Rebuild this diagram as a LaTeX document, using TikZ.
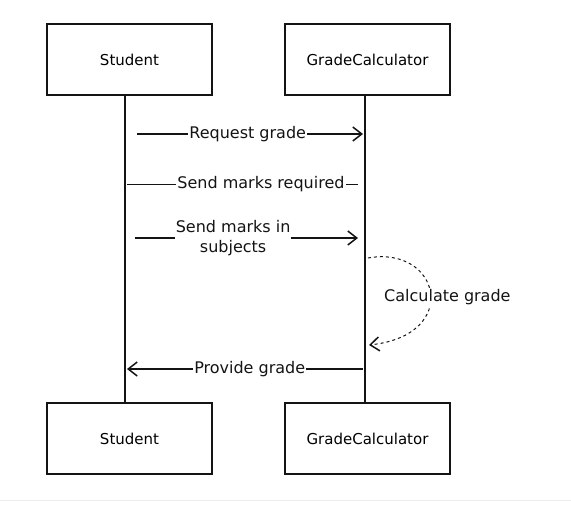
\documentclass[tikz,border=0pt]{standalone}
\usepackage{fontspec}
\setmainfont{DejaVu Sans}
\usetikzlibrary{arrows.meta}
\definecolor{inkcol}{gray}{0.08}
\definecolor{sepcol}{gray}{0.93}
\tikzset{
  actor/.style={draw=inkcol,line width=1.6pt,fill=white,minimum width=165pt,minimum height=71pt,inner sep=0pt,font=\fontsize{15}{17}\selectfont},
  life/.style={draw=inkcol,line width=2.6pt},
  msg/.style={draw=inkcol,line width=1.5pt,-{Straight Barb[length=9pt,width=14pt,line width=1.5pt]}},
  note/.style={draw=inkcol,line width=1pt},
  lbl/.style={fill=white,inner sep=1pt,font=\fontsize{16}{20}\selectfont,text=inkcol,align=center},
}

\begin{document}
\begin{tikzpicture}[x=1pt,y=-1pt]
  \useasboundingbox (0,0) rectangle (571,506);
  \draw[sepcol,line width=1pt] (0,500) -- (571,500);
  % actors
  \node[actor] (stuTop) at (129.5,59.5) {Student};
  \node[actor] (calcTop) at (367.5,59.5) {GradeCalculator};
  \node[actor] (stuBot) at (129.5,438.5) {Student};
  \node[actor] (calcBot) at (367.5,438.5) {GradeCalculator};
  % lifelines
  \draw[life] ([xshift=-4.5pt]stuTop.south) -- ([xshift=-4.5pt]stuBot.north);
  \draw[life] ([xshift=-2.5pt]calcTop.south) -- ([xshift=-2.5pt]calcBot.north);
  % message ends
  \coordinate (reqA) at (137,134);
  \coordinate (reqB) at (363,134);
  \coordinate (askA) at (358,184);
  \coordinate (askB) at (127,184);
  \coordinate (sendA) at (135,238);
  \coordinate (sendB) at (358,238);
  \coordinate (calcA) at (368,258);
  \coordinate (calcB) at (369,345);
  \coordinate (provA) at (363,369);
  \coordinate (provB) at (127,369);
  % messages
  \draw[msg] (reqA) -- node[lbl,pos=0.49] {Request grade} (reqB);
  \draw[note] (askA) -- node[lbl,pos=0.42] {Send marks required} (askB);
  \draw[msg] (sendA) -- node[lbl,pos=0.44] {Send marks in\\subjects} (sendB);
  \draw[msg,line width=1pt,dashed] (calcA) .. controls (440,245) and (462,335) .. (calcB);
  \node[lbl,anchor=west] (calcLbl) at (383,297) {Calculate grade};
  \draw[msg,line width=1.2pt] (provA) -- node[lbl,pos=0.48] {Provide grade} (provB);
\end{tikzpicture}
\end{document}
